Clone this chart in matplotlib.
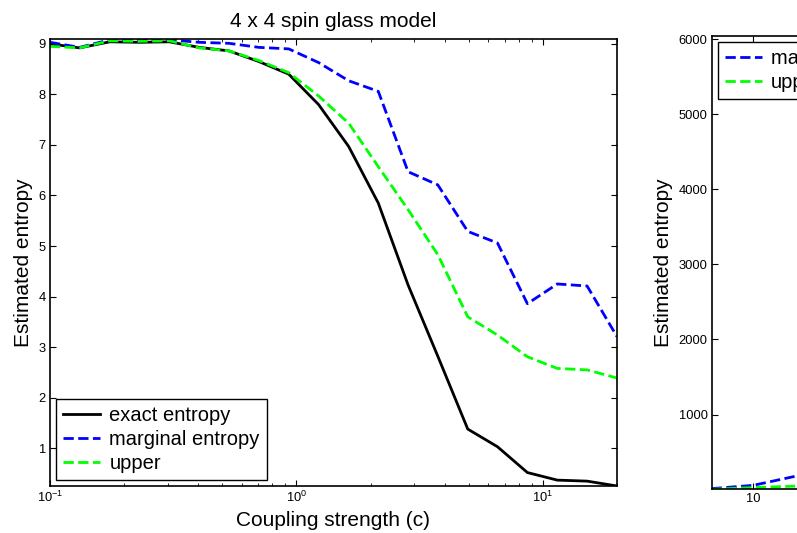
import matplotlib.pyplot as plt
from matplotlib.ticker import NullFormatter, FixedLocator

plt.rcParams['font.family'] = ['Liberation Sans', 'DejaVu Sans']

# 4x4 grid: coupling strength (log spaced) and entropy estimates
coupling = [0.1, 0.132, 0.175, 0.231, 0.305, 0.403, 0.533, 0.704, 0.931, 1.23,
            1.63, 2.15, 2.84, 3.75, 4.96, 6.55, 8.66, 11.45, 15.13, 20.0]
exact = [9.00, 8.92, 9.04, 9.03, 9.04, 8.93, 8.86, 8.65, 8.40, 7.80,
         6.97, 5.85, 4.23, 2.82, 1.38, 1.03, 0.52, 0.37, 0.35, 0.254]
marginal = [9.03, 8.93, 9.08, 9.08, 9.08, 9.03, 9.01, 8.93, 8.90, 8.63,
            8.27, 8.06, 6.47, 6.21, 5.29, 5.06, 3.86, 4.25, 4.21, 3.21]
upper = [8.95, 8.92, 9.06, 9.05, 9.06, 8.92, 8.86, 8.67, 8.43, 7.97,
         7.43, 6.57, 5.72, 4.83, 3.60, 3.24, 2.81, 2.58, 2.55, 2.39]

# second panel (only the left part is visible)
size = [5, 10, 15]
marginal_big = [13, 57, 177]
upper_big = [4, 27, 46]

fig = plt.figure(figsize=(7.97, 5.33), dpi=100)

tick_kw = dict(direction='in', top=True, right=True, labelsize=9.3)
leg_kw = dict(fontsize=14.5, fancybox=False, framealpha=1, edgecolor='black',
              borderaxespad=0.3, handlelength=1.85, handletextpad=0.45,
              labelspacing=0.25, borderpad=0.35)

ax = fig.add_axes([0.0627, 0.0882, 0.7114, 0.8381])
ax.plot(coupling, exact, color='black', lw=2, label='exact entropy')
ax.plot(coupling, marginal, color='#0000ff', lw=2, ls='--', label='marginal entropy')
ax.plot(coupling, upper, color='#00ff00', lw=2, ls='--', label='upper')
ax.set_xscale('log')
ax.set_xlim(0.1, 20)
ax.set_ylim(0.254, 9.09)
ax.set_yticks([1, 2, 3, 4, 5, 6, 7, 8, 9])
ax.tick_params(which='major', length=4, width=0.8, pad=3, **tick_kw)
ax.tick_params(which='minor', length=2.5, width=0.6, direction='in', top=True, right=True)
ax.xaxis.set_minor_formatter(NullFormatter())
ax.set_title('4 x 4 spin glass model', fontsize=15, pad=9)
ax.set_xlabel('Coupling strength (c)', fontsize=15)
ax.set_ylabel('Estimated entropy', fontsize=15)
ax.xaxis.set_label_coords(0.5, -0.055)
ax.yaxis.set_label_coords(-0.03, 0.5)
for s in ax.spines.values():
    s.set_linewidth(1.2)
leg = ax.legend(loc='lower left', **leg_kw)
leg.get_frame().set_linewidth(1.0)

ax2 = fig.add_axes([0.893, 0.082, 0.7114, 0.8505])
ax2.plot(size, marginal_big, color='#0000ff', lw=2, ls='--', label='marginal entropy')
ax2.plot(size, upper_big, color='#00ff00', lw=2, ls='--', label='upper')
ax2.set_xlim(5, 73)
ax2.set_ylim(4, 6044)
ax2.xaxis.set_major_locator(FixedLocator([10]))
ax2.set_yticks([1000, 2000, 3000, 4000, 5000, 6000])
ax2.tick_params(which='major', length=4, width=0.8, pad=3, **tick_kw)
ax2.set_ylabel('Estimated entropy', fontsize=15)
ax2.yaxis.set_label_coords(-0.068, 0.5)
for s in ax2.spines.values():
    s.set_linewidth(1.2)
leg2 = ax2.legend(loc='upper left', **leg_kw)
leg2.get_frame().set_linewidth(1.0)

fig.savefig('out.png', dpi=100)
